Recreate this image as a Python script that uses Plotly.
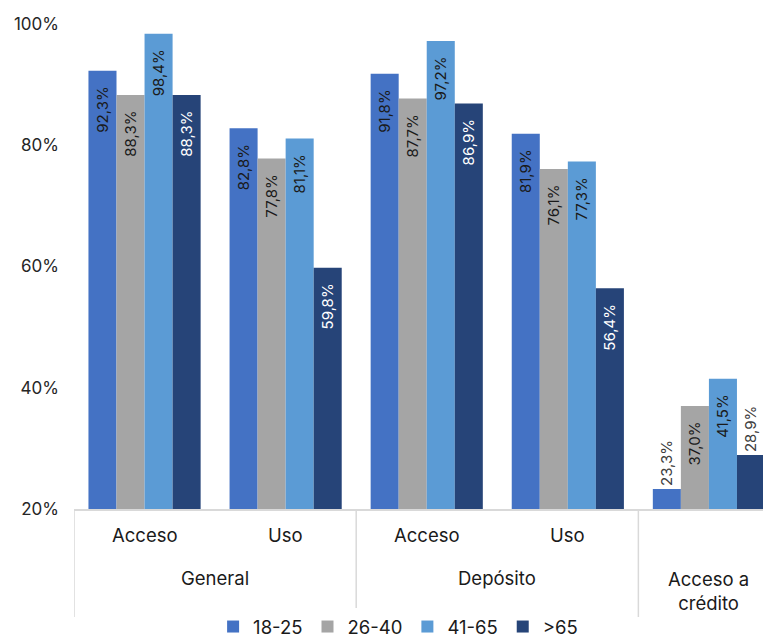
import plotly.graph_objects as go

categories = ["General|Acceso", "General|Uso", "Depósito|Acceso", "Depósito|Uso", "Acceso a crédito"]
inner_labels = ["Acceso", "Uso", "Acceso", "Uso", ""]
outer_groups = [("General", 0, 1), ("Depósito", 2, 3), ("Acceso a<br>crédito", 4, 4)]
series_names = ["18-25", "26-40", "41-65", ">65"]
v_18_25 = [92.3, 82.8, 91.8, 81.9, 23.3]
v_26_40 = [88.3, 77.8, 87.7, 76.1, 37.0]
v_41_65 = [98.4, 81.1, 97.2, 77.3, 41.5]
v_65 = [88.3, 59.8, 86.9, 56.4, 28.9]
y_ticks = [20, 40, 60, 80, 100]
y_tick_text = ["20%", "40%", "60%", "80%", "100%"]

colors = ["#4472C4", "#A5A5A5", "#5B9BD5", "#264478"]
inside_colors = ["#1a1a1a", "#1a1a1a", "#1a1a1a", "#ffffff"]
positions = [
    ["inside", "inside", "inside", "inside", "outside"],
    ["inside"] * 5,
    ["inside"] * 5,
    ["inside", "inside", "inside", "inside", "outside"],
]
FONT = "Inter, Open Sans, sans-serif"
PAD = "\u00a0\u00a0\u00a0"

def fmt(v):
    return f"{v:.1f}".replace(".", ",") + "%"

fig = go.Figure()
for name, vals, col, icol, pos in zip(series_names, [v_18_25, v_26_40, v_41_65, v_65], colors, inside_colors, positions):
    fig.add_trace(go.Bar(
        name=name, x=categories, y=vals,
        marker=dict(color=col, line=dict(width=0)),
        text=[fmt(v) + PAD for v in vals],
        textposition=pos, textangle=-90,
        insidetextanchor="end",
        insidetextfont=dict(color=icol, size=15, family=FONT),
        outsidetextfont=dict(color="#404040", size=15, family=FONT),
        constraintext="none", cliponaxis=False,
        hoverinfo="skip",
    ))

# the page body has an 8px margin; plot bottom sits at page y=509
y_px = 485.0
def py(pix):
    return (509 - pix) / y_px

annotations = []
for i, lab in enumerate(inner_labels):
    if lab:
        annotations.append(dict(x=i, y=py(535), xref="x", yref="paper", text=lab, showarrow=False,
                                yanchor="middle", font=dict(size=18.5, color="#1a1a1a", family=FONT)))
for lab, a, b in outer_groups:
    yy = py(578) if "<br>" not in lab else py(590.5)
    annotations.append(dict(x=(a + b) / 2, y=yy, xref="x", yref="paper", text=lab, showarrow=False,
                            yanchor="middle", font=dict(size=18.5, color="#1a1a1a", family=FONT)))

shapes = []
for xv in [-0.5, 1.5, 3.5]:
    shapes.append(dict(type="line", xref="x", yref="paper", x0=xv, x1=xv, y0=0, y1=py(617),
                       line=dict(color="#d9d9d9", width=1.5)))

fig.update_layout(
    width=763, height=630,
    margin=dict(l=65.5, r=0, t=16, b=129, autoexpand=False),
    paper_bgcolor="white", plot_bgcolor="white",
    barmode="group", bargap=0.205, bargroupgap=0,
    font=dict(family=FONT, color="#262626"),
    xaxis=dict(type="category", range=[-0.5, 4.44], showticklabels=False, showgrid=False,
               showline=True, linecolor="#d9d9d9", linewidth=1.5, ticks="", zeroline=False,
               automargin=False),
    yaxis=dict(range=[20, 100], tickmode="array", tickvals=y_ticks, ticktext=y_tick_text,
               showgrid=False, zeroline=False, automargin=False,
               showline=False, tickfont=dict(size=17, color="#262626", family=FONT),
               ticklabelstandoff=14),
    legend=dict(orientation="h", x=0.465, xanchor="center", y=py(627), yanchor="middle",
                font=dict(size=18.5, color="#1a1a1a", family=FONT), itemwidth=30,
                traceorder="normal"),
    annotations=annotations, shapes=shapes,
    showlegend=True,
)
fig.write_html("out.html")
